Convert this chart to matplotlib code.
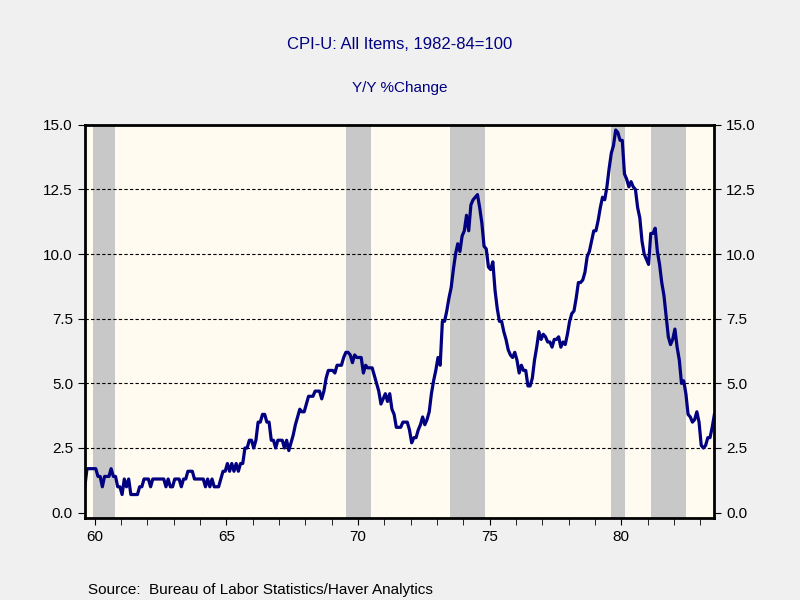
import numpy as np
import matplotlib.pyplot as plt

plt.rcParams['font.family'] = ['Liberation Sans', 'DejaVu Sans']

# monthly CPI-U y/y % change, Jan 1960 .. Dec 1983
cpi = {
    1960: [1.0, 1.7, 1.7, 1.7, 1.7, 1.7, 1.4, 1.4, 1.0, 1.4, 1.4, 1.4],
    1961: [1.7, 1.4, 1.4, 1.0, 1.0, 0.7, 1.3, 1.0, 1.3, 0.7, 0.7, 0.7],
    1962: [0.7, 1.0, 1.0, 1.3, 1.3, 1.3, 1.0, 1.3, 1.3, 1.3, 1.3, 1.3],
    1963: [1.3, 1.0, 1.3, 1.0, 1.0, 1.3, 1.3, 1.3, 1.0, 1.3, 1.3, 1.6],
    1964: [1.6, 1.6, 1.3, 1.3, 1.3, 1.3, 1.3, 1.0, 1.3, 1.0, 1.3, 1.0],
    1965: [1.0, 1.0, 1.3, 1.6, 1.6, 1.9, 1.6, 1.9, 1.6, 1.9, 1.6, 1.9],
    1966: [1.9, 2.5, 2.5, 2.8, 2.8, 2.5, 2.8, 3.5, 3.5, 3.8, 3.8, 3.5],
    1967: [3.5, 2.8, 2.8, 2.5, 2.8, 2.8, 2.8, 2.5, 2.8, 2.4, 2.7, 3.0],
    1968: [3.4, 3.7, 4.0, 3.9, 3.9, 4.2, 4.5, 4.5, 4.5, 4.7, 4.7, 4.7],
    1969: [4.4, 4.7, 5.2, 5.5, 5.5, 5.5, 5.4, 5.7, 5.7, 5.7, 6.0, 6.2],
    1970: [6.2, 6.1, 5.8, 6.1, 6.0, 6.0, 6.0, 5.4, 5.7, 5.6, 5.6, 5.6],
    1971: [5.3, 5.0, 4.7, 4.2, 4.4, 4.6, 4.3, 4.6, 4.0, 3.8, 3.3, 3.3],
    1972: [3.3, 3.5, 3.5, 3.5, 3.2, 2.7, 2.9, 2.9, 3.2, 3.4, 3.7, 3.4],
    1973: [3.6, 3.9, 4.6, 5.1, 5.5, 6.0, 5.7, 7.4, 7.4, 7.8, 8.3, 8.7],
    1974: [9.4, 10.0, 10.4, 10.1, 10.7, 10.9, 11.5, 10.9, 11.9, 12.1, 12.2, 12.3],
    1975: [11.8, 11.2, 10.3, 10.2, 9.5, 9.4, 9.7, 8.6, 7.9, 7.4, 7.4, 7.0],
    1976: [6.7, 6.3, 6.1, 6.0, 6.2, 5.9, 5.4, 5.7, 5.5, 5.5, 4.9, 4.9],
    1977: [5.2, 5.9, 6.4, 7.0, 6.7, 6.9, 6.8, 6.6, 6.6, 6.4, 6.7, 6.7],
    1978: [6.8, 6.4, 6.6, 6.5, 6.9, 7.4, 7.7, 7.8, 8.3, 8.9, 8.9, 9.0],
    1979: [9.3, 9.9, 10.1, 10.5, 10.9, 10.9, 11.3, 11.8, 12.2, 12.1, 12.6, 13.3],
    1980: [13.9, 14.2, 14.8, 14.7, 14.4, 14.4, 13.1, 12.9, 12.6, 12.8, 12.6, 12.5],
    1981: [11.8, 11.4, 10.5, 10.0, 9.8, 9.6, 10.8, 10.8, 11.0, 10.1, 9.6, 8.9],
    1982: [8.4, 7.6, 6.8, 6.5, 6.7, 7.1, 6.4, 5.9, 5.0, 5.1, 4.6, 3.8],
    1983: [3.7, 3.5, 3.6, 3.9, 3.5, 2.6, 2.5, 2.6, 2.9, 2.9, 3.3, 3.8],
}
recessions = [(1960.30, 1961.14), (1969.92, 1970.87), (1973.87, 1975.2),
              (1979.99, 1980.52), (1981.51, 1982.84)]
tick_years = [60, 65, 70, 75, 80]

values = np.concatenate([cpi[y] for y in sorted(cpi)])
t = 1960 + np.arange(len(values)) / 12

navy = '#000080'
fig = plt.figure(figsize=(8, 6), dpi=100, facecolor='#f0f0f0')
ax = fig.add_axes([0.106, 0.137, 0.787, 0.655])
ax.set_facecolor('#fffbf0')
for a, b in recessions:
    ax.axvspan(a, b, color='#c8c8c8', lw=0)
for yv in [2.5, 5.0, 7.5, 10.0, 12.5]:
    ax.axhline(yv, color='black', ls=(0, (3, 2)), lw=0.8)
ax.plot(t, values, color=navy, lw=2.3)

ax.set_xlim(1960, 1983 + 11 / 12)
ax.set_ylim(-0.2, 15.0)
ax.set_yticks(np.arange(0, 15.1, 2.5))
ax.set_yticklabels([f'{v:.1f}' for v in np.arange(0, 15.1, 2.5)])
ax.set_xticks([1900 + y + 0.38 for y in tick_years])
ax.set_xticklabels([str(y) for y in tick_years])
ax.set_xticks(np.arange(1960, 1984) + 0.38, minor=True)
ax.tick_params(axis='y', right=True, labelright=True, direction='out', labelsize=11, length=5)
ax.tick_params(axis='x', which='both', direction='out', labelsize=11, length=5)
for s in ax.spines.values():
    s.set_linewidth(2)

fig.text(0.5, 0.918, 'CPI-U: All Items, 1982-84=100', ha='center', color=navy, fontsize=12)
fig.text(0.5, 0.847, 'Y/Y %Change', ha='center', color=navy, fontsize=11)
fig.text(0.11, 0.01, 'Source:  Bureau of Labor Statistics/Haver Analytics', fontsize=11)
fig.savefig('out.png')
